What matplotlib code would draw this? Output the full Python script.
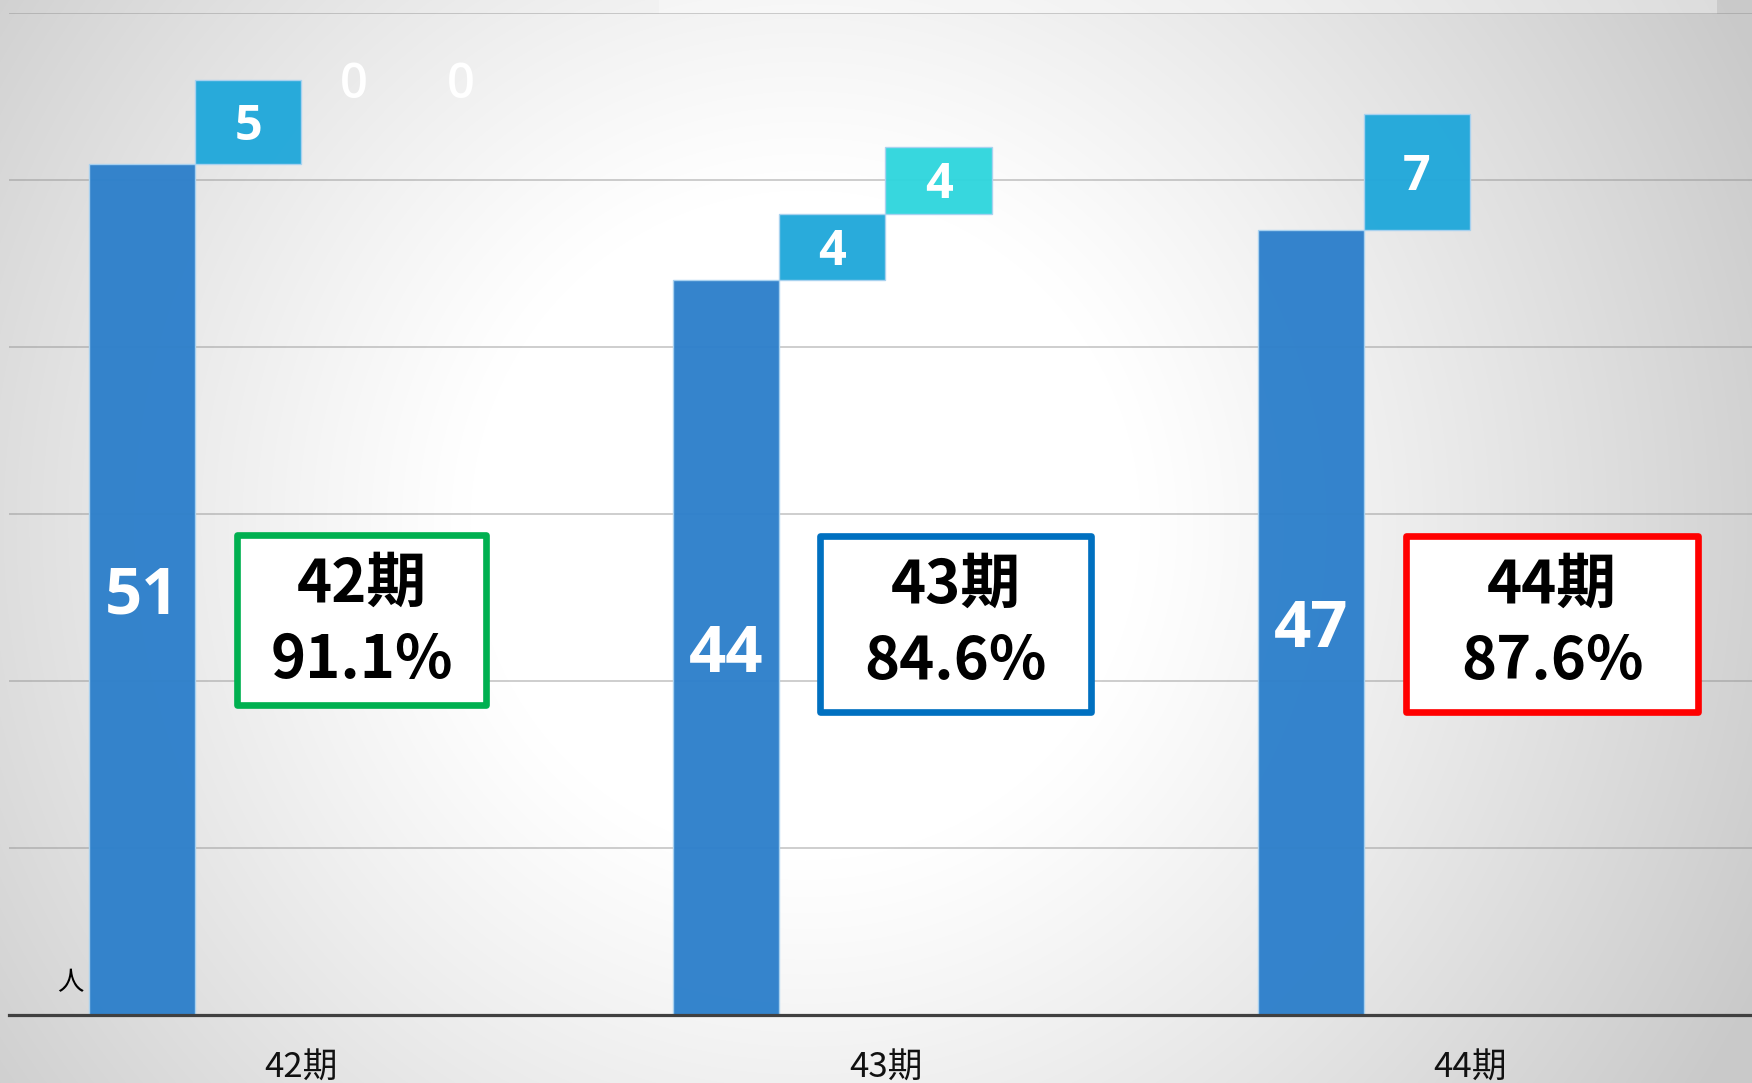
import numpy as np
import matplotlib
matplotlib.use("Agg")
import matplotlib.pyplot as plt
from matplotlib.patches import Rectangle
from matplotlib.transforms import offset_copy

# ---------------- data ----------------
categories = ["42期", "43期", "44期"]
base_values = [51, 44, 47]
step1_values = [5, 4, 7]
step2_values = [0, 4, np.nan]
step3_values = [0, np.nan, np.nan]
rate_labels = ["91.1%", "84.6%", "87.6%"]
box_colors = ["#00B050", "#0070C0", "#FF0000"]
unit_label = "人"

# ---------------- figure ----------------
W, H = 1752, 1083
DPI = 100
fig = plt.figure(figsize=(W / DPI, H / DPI), dpi=DPI)

# radial gradient background
bg = fig.add_axes([0, 0, 1, 1], zorder=-10)
yy, xx = np.mgrid[0:H, 0:W]
cx, cy = 805, 525
d = np.hypot(xx - cx, (yy - cy) * 1.0)
t = np.clip((d - 335) / (1060 - 335), 0, 1) ** 1.1
g = 1.0 - 0.21 * t
bg.imshow(np.dstack([g, g, g]), extent=[0, W, H, 0], aspect="auto", interpolation="bilinear")
bg.set_xlim(0, W)
bg.set_ylim(H, 0)
bg.axis("off")
# lighter band at the very top
bg.add_patch(Rectangle((659, 0), 1058, 13.5, facecolor="white", alpha=0.35, edgecolor="none"))

# main axes
ax_left, ax_right = 9, 9 + 1753
ax_top, ax_bottom = 13.4, 1014.5
ax = fig.add_axes([ax_left / W, 1 - ax_bottom / H, (ax_right - ax_left) / W, (ax_bottom - ax_top) / H])
ax.set_facecolor("none")
ax.set_xlim(-0.5, 2.5)
ax.set_ylim(0, 60)

x = np.arange(len(categories))
w = 0.1816
offs = [-1.5 * w, -0.5 * w, 0.5 * w, 1.5 * w]

base = np.array(base_values, float)
s1 = np.array(step1_values, float)
s2 = np.array(step2_values, float)
s3 = np.array(step3_values, float)

c_base = "#2E80CB"
c_step = "#22A8DA"
c_step2 = "#30D6DD"
edge = "#A9D2F0"
ALPHA = 0.97

val_font = dict(family=["Open Sans", "DejaVu Sans"], color="white", ha="center", va="center")
tr_big = offset_copy(ax.transData, fig=fig, x=0, y=-6, units="points")
tr_small = offset_copy(ax.transData, fig=fig, x=0, y=-4, units="points")

# base bars
ax.bar(x + offs[0], base, width=w, color=c_base, edgecolor=edge, linewidth=1, alpha=ALPHA, zorder=3)
for xi, v in zip(x, base):
    ax.text(xi + offs[0], v / 2, f"{int(v)}", fontsize=47, fontweight="bold", zorder=5,
            transform=tr_big, **val_font)

# step bars
series = [(s1, base, c_step, offs[1]),
          (s2, base + np.nan_to_num(s1), c_step2, offs[2]),
          (s3, base + np.nan_to_num(s1) + np.nan_to_num(s2), c_step, offs[3])]
for vals, bottoms, col, off in series:
    for xi, v, b in zip(x, vals, bottoms):
        if np.isnan(v):
            continue
        if v > 0:
            ax.bar(xi + off, v, bottom=b, width=w, color=col, edgecolor=edge, linewidth=1,
                   alpha=ALPHA, zorder=3)
            ax.text(xi + off, b + v / 2, f"{int(v)}", fontsize=35, fontweight="bold", zorder=5,
                    transform=tr_small, **val_font)
        else:
            ax.text(xi + off, b, f"{int(v)}", fontsize=35, fontweight="semibold", zorder=5,
                    transform=tr_small, **val_font)

# grid & spines
ax.set_yticks(np.arange(0, 61, 10))
ax.yaxis.grid(True, color="#8a8a8a", alpha=0.45, linewidth=1.3)
ax.set_axisbelow(True)
ax.tick_params(axis="y", left=False, labelleft=False)
for s in ["top", "right", "left"]:
    ax.spines[s].set_visible(False)
ax.spines["bottom"].set_color("#404040")
ax.spines["bottom"].set_linewidth(2.3)
ax.spines["bottom"].set_zorder(6)

ax.set_xticks(x)
ax.set_xticklabels(categories, family=["Noto Sans CJK JP", "DejaVu Sans"], fontsize=25, color="#111111")
ax.tick_params(axis="x", length=0, pad=26)

# unit label
fig.text(70 / W, 1 - 983 / H, unit_label, family=["Noto Sans CJK JP", "DejaVu Sans"],
         fontsize=19, ha="center", va="center", color="black")

# rate boxes (figure pixel coordinates)
boxes = [(237, 535, 486, 705), (820, 536, 1091, 712), (1406, 536, 1698, 712)]
for (x0, y0, x1, y1), col, cat, rate in zip(boxes, box_colors, categories, rate_labels):
    rect = Rectangle((x0 / W, 1 - y1 / H), (x1 - x0) / W, (y1 - y0) / H,
                     transform=fig.transFigure, facecolor="white", edgecolor=col,
                     linewidth=4.8, joinstyle="round", zorder=7)
    fig.add_artist(rect)
    xc = (x0 + x1) / 2
    fig.text(xc / W, 1 - (y0 + 50) / H, cat, family=["Noto Sans CJK JP", "DejaVu Sans"],
             fontsize=43, fontweight="bold", ha="center", va="center", color="black", zorder=8)
    fig.text(xc / W, 1 - (y0 + 126) / H, rate, family=["Noto Sans CJK JP", "DejaVu Sans"],
             fontsize=43, fontweight="bold", ha="center", va="center", color="black", zorder=8)

fig.savefig("out.png", dpi=DPI)
